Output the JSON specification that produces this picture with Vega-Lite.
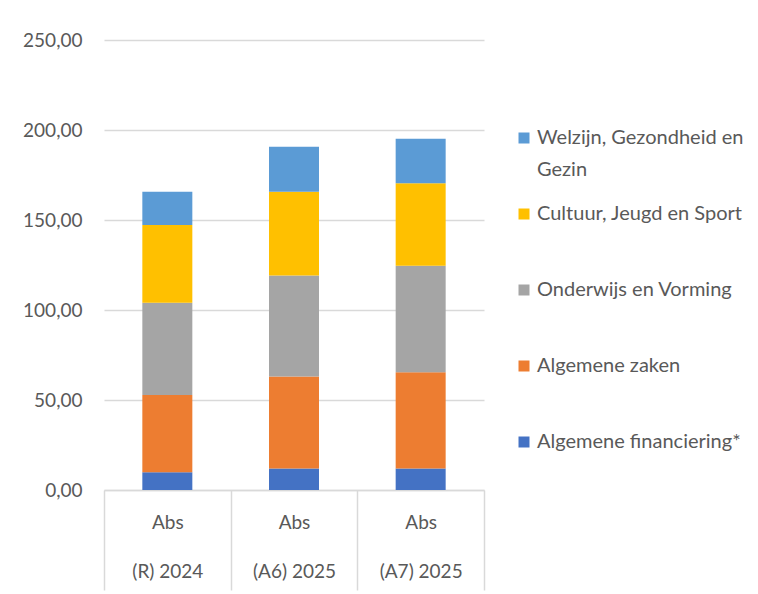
{
  "$schema": "https://vega.github.io/schema/vega-lite/v6.json",
  "autosize": {"type": "none"},
  "padding": {"left": 104, "top": 40, "right": 274, "bottom": 104},
  "width": 380,
  "height": 450,
  "background": "white",
  "config": {
    "view": {"stroke": null},
    "font": "Lato",
    "axis": {"labelFont": "Lato", "labelColor": "#595959", "labelFontSize": 19},
    "style": {"guide-label": {"lineHeight": 32}}
  },
  "data": {
    "values": [
      {"period": "(R) 2024", "domain": "Algemene financiering*", "value": 9.8},
      {"period": "(R) 2024", "domain": "Algemene zaken", "value": 43.0},
      {"period": "(R) 2024", "domain": "Onderwijs en Vorming", "value": 51.2},
      {"period": "(R) 2024", "domain": "Cultuur, Jeugd en Sport", "value": 43.2},
      {"period": "(R) 2024", "domain": "Welzijn, Gezondheid en Gezin", "value": 18.5},
      {"period": "(A6) 2025", "domain": "Algemene financiering*", "value": 12.0},
      {"period": "(A6) 2025", "domain": "Algemene zaken", "value": 51.1},
      {"period": "(A6) 2025", "domain": "Onderwijs en Vorming", "value": 56.0},
      {"period": "(A6) 2025", "domain": "Cultuur, Jeugd en Sport", "value": 46.6},
      {"period": "(A6) 2025", "domain": "Welzijn, Gezondheid en Gezin", "value": 25.0},
      {"period": "(A7) 2025", "domain": "Algemene financiering*", "value": 12.0},
      {"period": "(A7) 2025", "domain": "Algemene zaken", "value": 53.4},
      {"period": "(A7) 2025", "domain": "Onderwijs en Vorming", "value": 59.2},
      {"period": "(A7) 2025", "domain": "Cultuur, Jeugd en Sport", "value": 45.8},
      {"period": "(A7) 2025", "domain": "Welzijn, Gezondheid en Gezin", "value": 24.8}
    ]
  },
  "transform": [
    {"calculate": "indexof(['Algemene financiering*', 'Algemene zaken', 'Onderwijs en Vorming', 'Cultuur, Jeugd en Sport', 'Welzijn, Gezondheid en Gezin'], datum.domain)", "as": "rank"}
  ],
  "mark": {"type": "bar", "size": 50},
  "encoding": {
    "x": {
      "field": "period",
      "type": "nominal",
      "sort": ["(R) 2024", "(A6) 2025", "(A7) 2025"],
      "scale": {"paddingInner": 0, "paddingOuter": 0},
      "axis": {
        "title": null,
        "labelAngle": 0,
        "labelExpr": "datum.label ? ['Abs', datum.label] : ''",
        "labelLineHeight": 49,
        "labelBaseline": "top",
        "labelPadding": -77,
        "tickBand": "extent",
        "tickSize": 100,
        "tickColor": "#d9d9d9",
        "tickWidth": 1.5,
        "domainColor": "#d9d9d9",
        "domainWidth": 1.5
      }
    },
    "y": {
      "field": "value",
      "type": "quantitative",
      "stack": "zero",
      "scale": {"domain": [0, 250], "nice": false},
      "axis": {
        "title": null,
        "values": [0, 50, 100, 150, 200, 250],
        "labelExpr": "replace(format(datum.value, '.2f'), '.', ',')",
        "domain": false,
        "ticks": false,
        "labelPadding": 22,
        "gridColor": "#d9d9d9",
        "gridWidth": 1.5
      }
    },
    "color": {
      "field": "domain",
      "type": "nominal",
      "sort": ["Welzijn, Gezondheid en Gezin", "Cultuur, Jeugd en Sport", "Onderwijs en Vorming", "Algemene zaken", "Algemene financiering*"],
      "scale": {"range": ["#5B9BD5", "#FFC000", "#A5A5A5", "#ED7D31", "#4472C4"]},
      "legend": {
        "title": null,
        "orient": "none",
        "legendX": 410,
        "legendY": 88,
        "gridAlign": "all",
        "symbolType": "square",
        "symbolSize": 121,
        "symbolStrokeWidth": 0,
        "labelFont": "Lato",
        "labelFontSize": 20,
        "labelColor": "#595959",
        "labelOffset": 3,
        "labelLimit": 300,
        "rowPadding": 24,
        "labelExpr": "datum.label == 'Welzijn, Gezondheid en Gezin' ? ['Welzijn, Gezondheid en', 'Gezin'] : datum.label"
      }
    },
    "order": {"field": "rank", "sort": "ascending"}
  }
}
